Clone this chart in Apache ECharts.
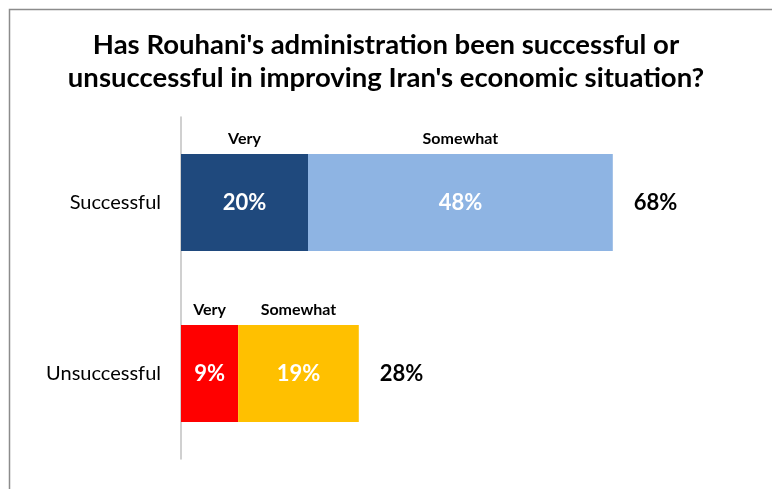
<!DOCTYPE html>
<html>
<head>
<meta charset="utf-8">
<script src="https://cdn.jsdelivr.net/npm/echarts@6/dist/echarts.min.js"></script>
<style>html,body{margin:0;padding:0;background:#fff}#c{width:772px;height:489px}</style>
</head>
<body>
<div id="c"></div>
<script>
const titleText = "Has Rouhani's administration been successful or\nunsuccessful in improving Iran's economic situation?";
const categories = ["Successful", "Unsuccessful"];
const seriesNames = ["Very", "Somewhat"];
const veryValues = [20, 9];
const somewhatValues = [48, 19];
const totalValues = [68, 28];
const veryColors = ["#1F497D", "#FF0000"];
const somewhatColors = ["#8EB4E3", "#FFC000"];

const FONT = "Lato, 'Open Sans', sans-serif";
const chart = echarts.init(document.getElementById('c'), null, {renderer: 'canvas'});
const BW = 97;

const inner = {
  show: true, position: 'inside', color: '#fff', fontFamily: FONT,
  fontWeight: 'bold', fontSize: 22, formatter: p => p.value + '%'
};
const head = name => ({
  show: true, position: 'top', distance: 7, color: '#000', fontFamily: FONT,
  fontWeight: 'bold', fontSize: 16, formatter: () => name
});

chart.setOption({
  animation: false,
  title: {
    text: titleText, left: 'center', top: 24,
    textStyle: {fontFamily: FONT, fontWeight: 'bold', fontSize: 27.5, color: '#000', lineHeight: 33}
  },
  graphic: [{
    type: 'rect', silent: true,
    shape: {x: 9.5, y: 9.5, width: 800, height: 520},
    style: {fill: 'none', stroke: '#8c8c8c', lineWidth: 1.5}
  }],
  grid: {left: 181, top: 117, width: 571.5, height: 342, containLabel: false},
  xAxis: {type: 'value', min: 0, max: 90, show: false},
  yAxis: {
    type: 'category', data: categories, inverse: true,
    axisLine: {show: true, lineStyle: {color: '#c0c0c0', width: 1.5}},
    axisTick: {show: false},
    axisLabel: {color: '#000', fontFamily: FONT, fontSize: 20, margin: 20}
  },
  series: [
    {name: seriesNames[0], type: 'bar', stack: 'a', barWidth: BW, data: veryValues,
     itemStyle: {color: p => veryColors[p.dataIndex]}, label: inner},
    {name: seriesNames[1], type: 'bar', stack: 'a', barWidth: BW, data: somewhatValues,
     itemStyle: {color: p => somewhatColors[p.dataIndex]}, label: inner},
    {name: 'h1', type: 'bar', stack: 'b', barWidth: BW, data: veryValues, silent: true,
     itemStyle: {color: 'rgba(0,0,0,0)'}, label: head(seriesNames[0])},
    {name: 'h2', type: 'bar', stack: 'b', barWidth: BW, data: somewhatValues, silent: true,
     itemStyle: {color: 'rgba(0,0,0,0)'}, label: head(seriesNames[1])},
    {name: 'total', type: 'bar', stack: 'c', barWidth: BW, barGap: '-100%', data: totalValues, silent: true,
     itemStyle: {color: 'rgba(0,0,0,0)'},
     label: {show: true, position: 'right', distance: 21, color: '#000', fontFamily: FONT,
             fontWeight: 'bold', fontSize: 22, formatter: p => p.value + '%'}}
  ]
});
</script>
</body>
</html>
